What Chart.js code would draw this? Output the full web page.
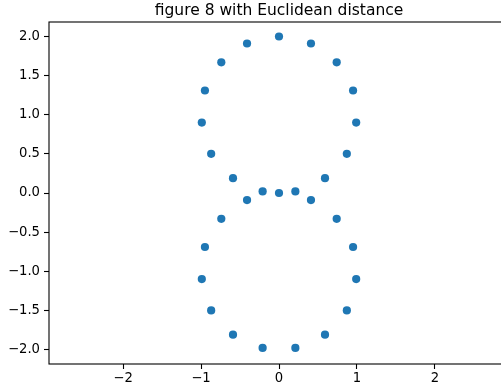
<!DOCTYPE html>
<html>
<head>
<meta charset="utf-8">
<script src="https://cdn.jsdelivr.net/npm/chart.js@4/dist/chart.umd.min.js"></script>
<style>
  html, body { margin: 0; padding: 0; background: #fff; }
  #wrap { width: 501px; height: 392px; overflow: hidden; position: relative; }
  canvas { display: block; }
</style>
</head>
<body>
<div id="wrap"><canvas id="c" width="520" height="392"></canvas></div>
<script>
const chartTitle = "figure 8 with Euclidean distance";

// Points (upper loop, then lower loop)
const xValues = [
  0.00, 0.41, 0.74, 0.95, 0.99, 0.87, 0.59, 0.21, -0.21, -0.59, -0.87, -0.99, -0.95, -0.74, -0.41,
  0.00, 0.41, 0.74, 0.95, 0.99, 0.87, 0.59, 0.21, -0.21, -0.59, -0.87, -0.99, -0.95, -0.74, -0.41
];
const yValues = [
  2.00, 1.91, 1.67, 1.31, 0.90, 0.50, 0.19, 0.02, 0.02, 0.19, 0.50, 0.90, 1.31, 1.67, 1.91,
  0.00, -0.09, -0.33, -0.69, -1.10, -1.50, -1.81, -1.98, -1.98, -1.81, -1.50, -1.10, -0.69, -0.33, -0.09
];

const xTicks = [-2, -1, 0, 1, 2];
const yTicks = [-2.0, -1.5, -1.0, -0.5, 0.0, 0.5, 1.0, 1.5, 2.0];

const points = xValues.map((x, i) => ({ x: x, y: yValues[i] }));
const minus = s => s.replace('-', '\u2212');
const tickFont = { family: "'DejaVu Sans', sans-serif", size: 13.2 };

const framePlugin = {
  id: 'frame',
  afterDraw(chart) {
    const ctx = chart.ctx, a = chart.chartArea;
    ctx.save();
    ctx.strokeStyle = '#000';
    ctx.lineWidth = 1.1;
    ctx.strokeRect(a.left, a.top, a.right - a.left, a.bottom - a.top);
    ctx.fillStyle = '#000';
    ctx.font = "15.5px 'DejaVu Sans', sans-serif";
    ctx.textAlign = 'center';
    ctx.textBaseline = 'alphabetic';
    ctx.fillText(chartTitle, (a.left + a.right) / 2, 15);
    ctx.restore();
  }
};

new Chart(document.getElementById('c'), {
  type: 'scatter',
  data: {
    datasets: [{
      data: points,
      backgroundColor: '#1f77b4',
      borderWidth: 0,
      pointRadius: 4.1,
      pointHoverRadius: 4.1
    }]
  },
  options: {
    responsive: false,
    animation: false,
    events: [],
    devicePixelRatio: 1,
    layout: { padding: { top: 22, right: 11, left: 0, bottom: 0 } },
    plugins: { legend: { display: false }, tooltip: { enabled: false }, title: { display: false } },
    scales: {
      x: {
        type: 'linear',
        min: -2.95, max: 2.95,
        afterBuildTicks: s => { s.ticks = xTicks.map(v => ({ value: v })); },
        afterFit: s => { s.height = 28; },
        grid: { drawOnChartArea: false, drawTicks: true, tickLength: 5, tickWidth: 1.1, tickColor: '#000' },
        border: { display: false },
        ticks: { color: '#000', font: tickFont, padding: 2, maxRotation: 0, autoSkip: false,
                 callback: v => minus(String(v)) }
      },
      y: {
        type: 'linear',
        min: -2.185, max: 2.185,
        afterBuildTicks: s => { s.ticks = yTicks.map(v => ({ value: v })); },
        afterFit: s => { s.width = 49; },
        grid: { drawOnChartArea: false, drawTicks: true, tickLength: 5, tickWidth: 1.1, tickColor: '#000' },
        border: { display: false },
        ticks: { color: '#000', font: tickFont, padding: 4, autoSkip: false,
                 callback: v => minus(Number(v).toFixed(1)) }
      }
    }
  },
  plugins: [framePlugin]
});
</script>
</body>
</html>
